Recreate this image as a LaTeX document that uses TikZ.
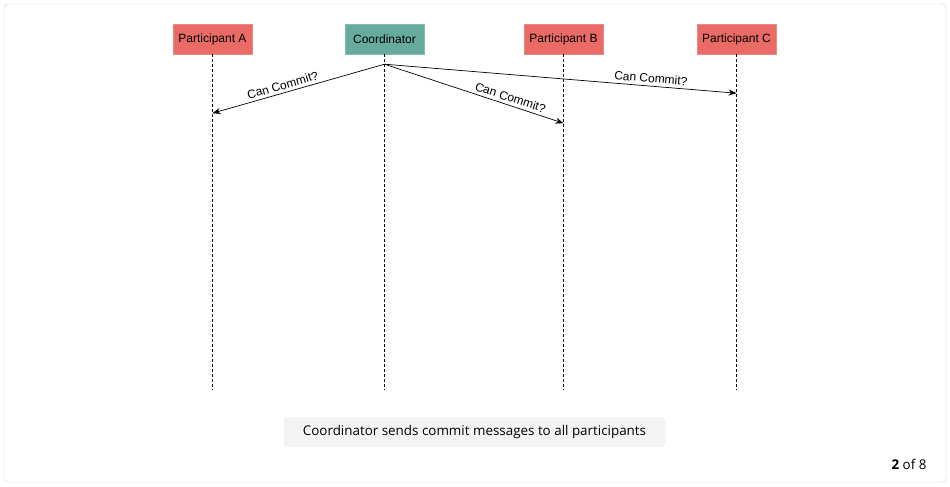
\documentclass[tikz,border=0pt]{standalone}
\usepackage{fontspec}
\setmainfont{Liberation Sans}
\newfontfamily\capfont{Open Sans}
\usepackage{tikz}
\usetikzlibrary{arrows.meta}
\definecolor{partred}{HTML}{EA6B66}
\definecolor{coordteal}{HTML}{67AB9F}
\definecolor{framegray}{HTML}{D0D0D0}
\definecolor{capgray}{HTML}{F3F3F3}

\begin{document}
\begin{tikzpicture}[x=1pt, y=-1pt, every node/.style={font=\fontsize{12}{14}\selectfont}]
\tikzset{
  actor/.style={draw=partred!80, fill=partred, minimum width=79pt, minimum height=30pt, inner sep=0},
  life/.style={densely dashed, line width=0.8pt},
  msg/.style={-{Stealth[length=8pt,width=6pt]}, line width=0.7pt},
  lbl/.style={sloped, above, inner sep=3pt, font=\fontsize{12}{14}\selectfont}
}
% --- frame ---
\useasboundingbox (0,0) rectangle (950,487);
\draw[framegray, rounded corners=4pt] (4,4) rectangle (946,482);
% --- participants and lifelines ---
\node[actor] (pa) at (212.5,39) {Participant A};
\node[actor, draw=coordteal!80, fill=coordteal] (co) at (384.5,39) {Coordinator};
\node[actor] (pb) at (563.5,39) {Participant B};
\node[actor] (pc) at (736.5,39) {Participant C};
\foreach \p in {pa,co,pb,pc} {
  \coordinate (\p-end) at ([yshift=-336pt]\p.south);
  \draw[life] (\p.south) -- (\p-end);
}
% --- messages ---
\coordinate (send) at ([yshift=-10pt]co.south);
\coordinate (ra) at ([yshift=-59pt]pa.south);
\coordinate (rb) at ([yshift=-69pt]pb.south);
\coordinate (rc) at ([yshift=-39pt]pc.south);
\draw[msg] (send) -- node[lbl, pos=0.58] {Can Commit?} (ra);
\draw[msg] (send) -- node[lbl, pos=0.69] {Can Commit?} (rb);
\draw[msg] (send) -- node[lbl, pos=0.755] {Can Commit?} (rc);
% --- caption ---
\node[fill=capgray, rounded corners=3pt, minimum width=381pt, minimum height=30pt, inner sep=0,
  font=\capfont\fontsize{13.4}{16}\selectfont] (cap) at (474.5,432) {Coordinator sends commit messages to all participants};
\node[anchor=east, font=\capfont\fontsize{13.4}{16}\selectfont] (page) at (930,464) {\textbf{2} of 8};
\end{tikzpicture}
\end{document}
